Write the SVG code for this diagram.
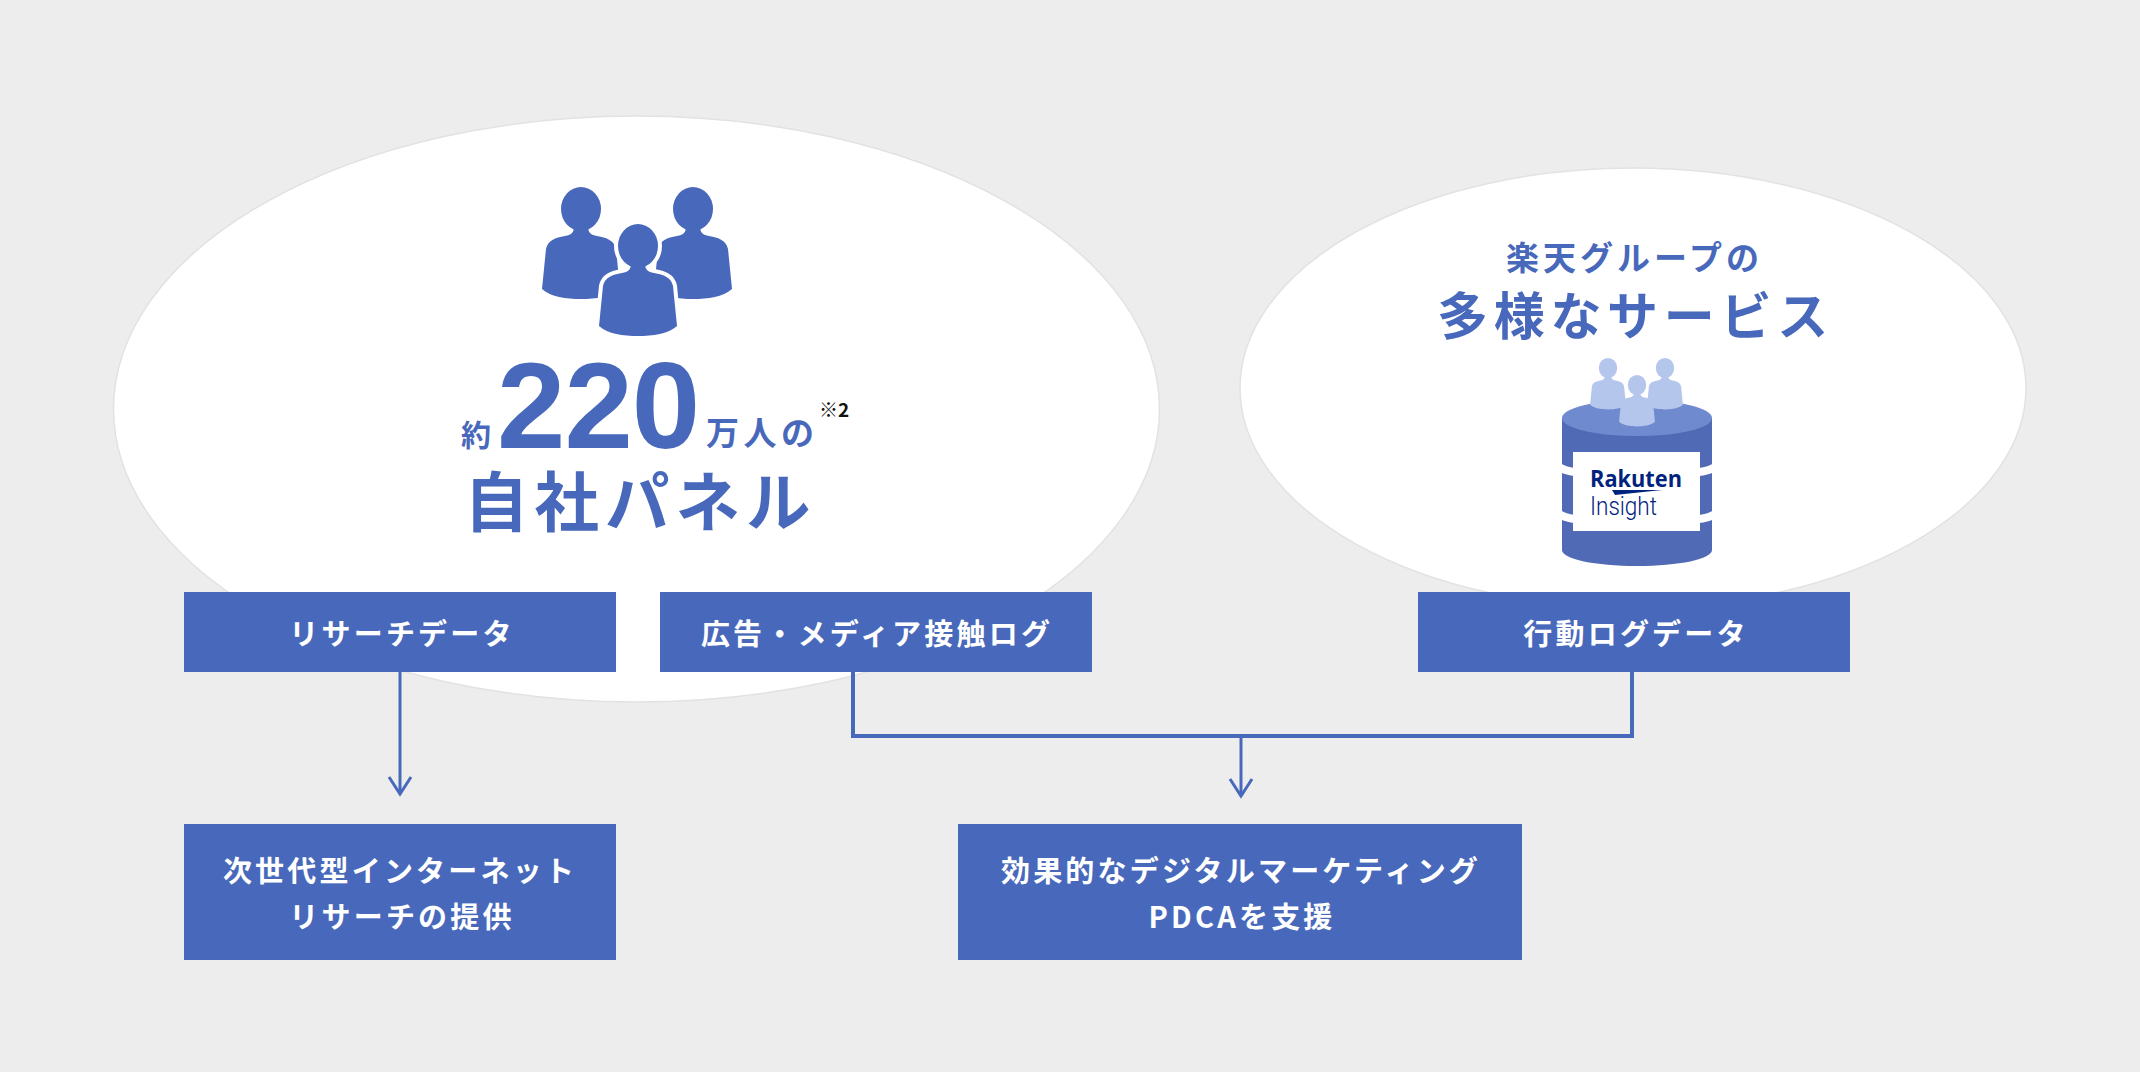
<svg xmlns="http://www.w3.org/2000/svg" width="2140" height="1072" viewBox="0 0 2140 1072">
<style>
.cjk{font-family:"Noto Sans CJK JP","Noto Sans",sans-serif}
.box{fill:#4869bb}
.bt{fill:#fff;font-size:29px;font-weight:700;letter-spacing:3.2px;text-anchor:middle}
.h{fill:#4869bb;font-weight:700}
.el{fill:#fff;stroke:#e2e2e2;stroke-width:1.5}
.ln{fill:none;stroke:#4869bb;stroke-width:3}
</style>
<defs>
<g id="person"><ellipse cx="0" cy="0" rx="20" ry="22"/><path d="M-7,17C-7,24-10,26-16,27C-26,29-33,31-35,40L-39,80C-30,88-15,90 0,90C15,90 30,88 39,80L35,40C33,31 26,29 16,27C10,26 7,24 7,17Z"/></g>
<marker id="arr" markerWidth="28" markerHeight="28" refX="20" refY="14" orient="auto" markerUnits="userSpaceOnUse" viewBox="0 0 28 28"><path d="M3,3L20,14L3,25" fill="none" stroke="#4869bb" stroke-width="3"/></marker>
</defs>
<rect width="2140" height="1072" fill="#ededed"/>
<g id="panel-left">
<ellipse class="el" cx="636.5" cy="409" rx="523" ry="293"/>
<g fill="#4869bb"><use href="#person" x="581" y="209"/><use href="#person" x="693" y="209"/></g>
<use href="#person" x="638" y="246" fill="#fff" stroke="#fff" stroke-width="8"/>
<use href="#person" x="638" y="246" fill="#4869bb"/>
<text class="cjk h" x="461" y="446" font-size="30" font-weight="500">約</text>
<text x="497" y="448" font-family="Liberation Sans,Arial,sans-serif" font-weight="700" font-size="123" letter-spacing="-1" fill="#4869bb">220</text>
<text class="cjk h" x="706" y="445" font-size="33" letter-spacing="4.5">万人の</text>
<text x="819" y="417" font-family="Noto Sans CJK JP,sans-serif" font-weight="700" font-size="19" fill="#111">※2</text>
<text class="cjk h" x="464" y="526" font-size="64.5" letter-spacing="6">自社パネル</text>
</g>
<g id="panel-right">
<ellipse class="el" cx="1633" cy="388" rx="393" ry="220"/>
<text class="cjk h" x="1506" y="270" font-size="33" font-weight="500" letter-spacing="4">楽天グループの</text>
<text class="cjk h" x="1437" y="335" font-size="51" letter-spacing="5.7">多様なサービス</text>
<g id="cylinder">
<path d="M1562,418V550C1562,559 1595,566 1637,566C1679,566 1712,559 1712,550V418Z" fill="#516ab5"/>
<ellipse cx="1637" cy="418" rx="75" ry="18" fill="#708ad0"/>
<g fill="#b5c6ec"><use href="#person" transform="translate(1608,368) scale(.46)"/><use href="#person" transform="translate(1665,368) scale(.46)"/><use href="#person" transform="translate(1637,385) scale(.46)"/></g>
<path d="M1560,463Q1566,467 1575,468V476Q1566,475 1560,472ZM1560,510Q1566,514 1575,515V523Q1566,522 1560,519ZM1714,463Q1708,467 1699,468V476Q1708,475 1714,472ZM1714,510Q1708,514 1699,515V523Q1708,522 1714,519Z" fill="#fff"/>
<rect x="1573" y="452" width="127" height="79" fill="#fff"/>
<text x="1590" y="487" font-family="Open Sans,sans-serif" font-weight="700" font-size="24" fill="#00237d" textLength="92" lengthAdjust="spacingAndGlyphs">Rakuten</text>
<path d="M1612,490L1662,490L1615,495Z" fill="#00237d"/>
<text x="1590" y="515" font-family="Roboto,sans-serif" font-weight="300" font-size="25" fill="#00237d" textLength="67" lengthAdjust="spacingAndGlyphs">Insight</text>
</g>
</g>
<g id="connectors">
<path class="ln" d="M400,672V794" marker-end="url(#arr)"/>
<path d="M853,672V736H1632V672" fill="none" stroke="#4869bb" stroke-width="4"/>
<path class="ln" d="M1241,736V796" marker-end="url(#arr)"/>
</g>
<g id="n1"><rect class="box" x="184" y="592" width="432" height="80"/><text class="cjk bt" x="402" y="645">リサーチデータ</text></g>
<g id="n2"><rect class="box" x="660" y="592" width="432" height="80"/><text class="cjk bt" x="877" y="645">広告・メディア接触ログ</text></g>
<g id="n3"><rect class="box" x="1418" y="592" width="432" height="80"/><text class="cjk bt" x="1636" y="645">行動ログデータ</text></g>
<g id="n4"><rect class="box" x="184" y="824" width="432" height="136"/><text class="cjk bt" x="400" y="882">次世代型インターネット</text><text class="cjk bt" x="402" y="928">リサーチの提供</text></g>
<g id="n5"><rect class="box" x="958" y="824" width="564" height="136"/><text class="cjk bt" x="1241" y="882">効果的なデジタルマーケティング</text><text class="cjk bt" x="1242" y="928">PDCAを支援</text></g>
</svg>
